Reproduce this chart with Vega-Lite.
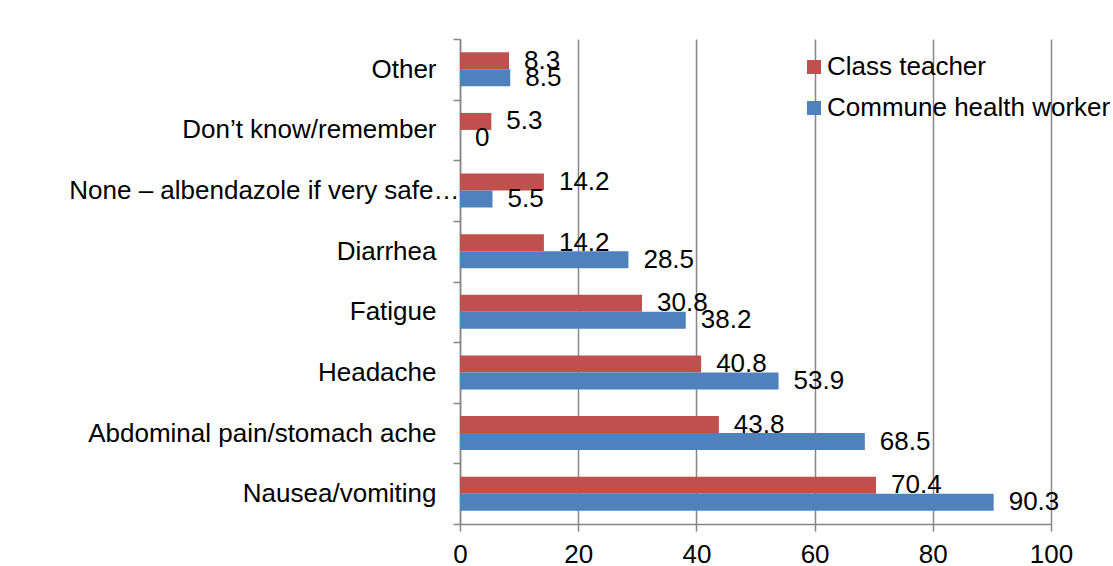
{
  "$schema": "https://vega.github.io/schema/vega-lite/v6.json",
  "width": 591,
  "height": 485,
  "autosize": "none",
  "padding": {"left": 460, "top": 39, "right": 62, "bottom": 42},
  "background": "white",
  "config": {"view": {"stroke": null}, "font": "Liberation Sans"},
  "data": {
    "values": [
      {"category": "Other", "group": "Class teacher", "value": 8.3},
      {"category": "Other", "group": "Commune health worker", "value": 8.5},
      {"category": "Don’t know/remember", "group": "Class teacher", "value": 5.3},
      {"category": "Don’t know/remember", "group": "Commune health worker", "value": 0},
      {"category": "None – albendazole if very safe…", "group": "Class teacher", "value": 14.2},
      {"category": "None – albendazole if very safe…", "group": "Commune health worker", "value": 5.5},
      {"category": "Diarrhea", "group": "Class teacher", "value": 14.2},
      {"category": "Diarrhea", "group": "Commune health worker", "value": 28.5},
      {"category": "Fatigue", "group": "Class teacher", "value": 30.8},
      {"category": "Fatigue", "group": "Commune health worker", "value": 38.2},
      {"category": "Headache", "group": "Class teacher", "value": 40.8},
      {"category": "Headache", "group": "Commune health worker", "value": 53.9},
      {"category": "Abdominal pain/stomach ache", "group": "Class teacher", "value": 43.8},
      {"category": "Abdominal pain/stomach ache", "group": "Commune health worker", "value": 68.5},
      {"category": "Nausea/vomiting", "group": "Class teacher", "value": 70.4},
      {"category": "Nausea/vomiting", "group": "Commune health worker", "value": 90.3}
    ]
  },
  "encoding": {
    "y": {
      "field": "category",
      "type": "nominal",
      "sort": ["Other", "Don’t know/remember", "None – albendazole if very safe…", "Diarrhea", "Fatigue", "Headache", "Abdominal pain/stomach ache", "Nausea/vomiting"],
      "scale": {"paddingInner": 0, "paddingOuter": 0},
      "axis": {
        "title": null,
        "grid": false,
        "domainColor": "#868686",
        "domainWidth": 1.5,
        "tickColor": "#868686",
        "tickWidth": 1.5,
        "tickSize": 7,
        "tickBand": "extent",
        "labelFontSize": 26,
        "labelColor": "black",
        "labelPadding": {
          "condition": {"test": "datum.value === 'None – albendazole if very safe…'", "value": -6},
          "value": 17
        },
        "labelLimit": 0
      }
    },
    "yOffset": {
      "field": "group",
      "type": "nominal",
      "sort": ["Class teacher", "Commune health worker"],
      "scale": {"paddingInner": 0, "paddingOuter": 0.78}
    },
    "x": {
      "field": "value",
      "type": "quantitative",
      "scale": {"domain": [0, 100]},
      "axis": {
        "title": null,
        "values": [0, 20, 40, 60, 80, 100],
        "grid": true,
        "gridColor": "#868686",
        "gridWidth": 1.5,
        "domainColor": "#868686",
        "domainWidth": 1.5,
        "tickColor": "#868686",
        "tickWidth": 1.5,
        "tickSize": 7,
        "labelFontSize": 26,
        "labelColor": "black",
        "labelPadding": 10,
        "labelFlush": false
      }
    }
  },
  "layer": [
    {
      "mark": {"type": "bar"},
      "encoding": {
        "color": {
          "field": "group",
          "type": "nominal",
          "scale": {"domain": ["Class teacher", "Commune health worker"], "range": ["#C0504D", "#4F81BD"]},
          "legend": {
            "title": null,
            "orient": "none",
            "legendX": 341,
            "legendY": 15,
            "symbolType": "square",
            "symbolSize": 196,
            "symbolStrokeWidth": 0,
            "labelFontSize": 26,
            "labelColor": "black",
            "labelOffset": 0,
            "rowPadding": 15,
            "padding": 0,
            "labelLimit": 0
          }
        }
      }
    },
    {
      "mark": {"type": "text", "align": "left", "baseline": "middle", "dx": 15, "fontSize": 26, "color": "black"},
      "encoding": {"text": {"field": "value", "type": "nominal"}}
    }
  ]
}
